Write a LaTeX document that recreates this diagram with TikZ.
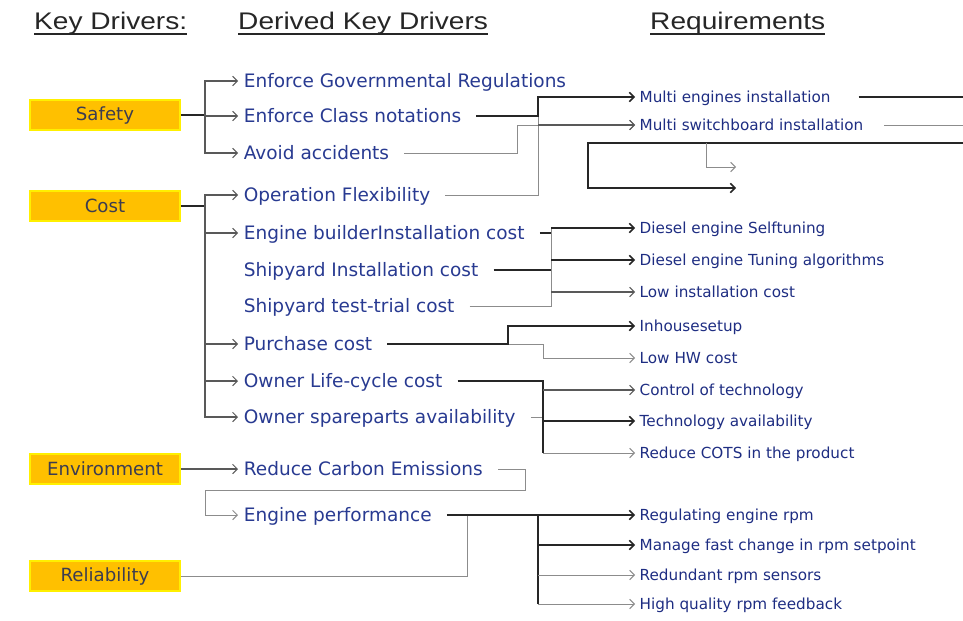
\documentclass[tikz,border=0pt]{standalone}
\usepackage{fontspec}
\setmainfont{DejaVu Sans}
\newfontfamily\headfont{Liberation Sans}
\usetikzlibrary{arrows.meta,shadows}
\definecolor{kdorange}{RGB}{255,192,0}
\definecolor{kdyellow}{RGB}{255,240,0}
\definecolor{kdtext}{RGB}{60,60,80}
\definecolor{dkblue}{RGB}{40,58,145}
\definecolor{rqblue}{RGB}{30,45,130}

\begin{document}
\begin{tikzpicture}[x=0.03cm,y=-0.03cm,
	>={Straight Barb[length=4pt,width=8pt]},
	head/.style={anchor=base west,inner sep=0pt,text=black!85,font=\headfont\fontsize{20.5pt}{24pt}\selectfont},
	kd/.style={draw=kdyellow,line width=1.4pt,fill=kdorange,minimum width=4.5cm,minimum height=0.91cm,text=kdtext,font=\fontsize{15.5pt}{18pt}\selectfont,drop shadow={shadow xshift=0.7pt,shadow yshift=-0.9pt,fill=black!35}},
	dkd/.style={anchor=west,inner xsep=0pt,outer xsep=5pt,inner ysep=0pt,text height=14.5pt,text depth=3pt,text=dkblue,font=\fontsize{15.8pt}{18pt}\selectfont},
	req/.style={anchor=west,inner xsep=0pt,outer xsep=4pt,inner ysep=0pt,text height=12pt,text depth=2.5pt,text=rqblue,font=\fontsize{13pt}{15pt}\selectfont},
	heavy/.style={draw=black!85,line width=1.3pt},
	mid/.style={draw=black!65,line width=0.9pt},
	soft/.style={draw=black!45,line width=0.8pt},
	from/.style={shorten <=8pt}]
	\useasboundingbox (0,0) rectangle (963,620);
	
	\node[head] (h1) at (34,30) {\scalebox{1.17}[1]{Key Drivers:}};
	\node[head] (h2) at (238,30) {\scalebox{1.17}[1]{Derived Key Drivers}};
	\node[head] (h3) at (650,30) {\scalebox{1.17}[1]{Requirements}};
	\foreach \h in {h1,h2,h3}
		\draw[line width=1.2pt,black!85] ([yshift=-3.4pt]\h.base west) -- ([yshift=-3.4pt]\h.base east);
	
	\begin{scope}
	\node[kd] (sf) at (105,115) {Safety};
	\node[kd] (cs) at (105,206) {Cost};
	\node[kd] (ev) at (105,469) {Environment};
	\node[kd] (rl) at (105,576) {Reliability};
	\end{scope}
	
	\begin{scope}
	\node[dkd] (egr) at (238,81) {Enforce Governmental Regulations};
	\node[dkd] (ecn) at (238,116) {Enforce Class notations};
	\node[dkd] (avd) at (238,153) {Avoid accidents};
	\node[dkd] (opf) at (238,195) {Operation Flexibility};
	\node[dkd] (ebc) at (238,233) {Engine builderInstallation cost};
	\node[dkd] (sic) at (238,270) {Shipyard Installation cost};
	\node[dkd] (stc) at (238,306) {Shipyard test-trial cost};
	\node[dkd] (pur) at (238,344) {Purchase cost};
	\node[dkd] (olc) at (238,381) {Owner Life-cycle cost};
	\node[dkd] (osa) at (238,417) {Owner spareparts availability};
	\node[dkd] (rce) at (238,469) {Reduce Carbon Emissions};
	\node[dkd] (enp) at (238,515) {Engine performance};
	\end{scope}
	
	\begin{scope}
	\node[req] (mei) at (635,97) {Multi engines installation};
	\node[req] (msi) at (635,125) {Multi switchboard installation};
	\node[req] (dst) at (635,228) {Diesel engine Selftuning};
	\node[req] (dta) at (635,260) {Diesel engine Tuning algorithms};
	\node[req] (lic) at (635,292) {Low installation cost};
	\node[req] (ihs) at (635,326) {Inhousesetup};
	\node[req] (lhw) at (635,358) {Low HW cost};
	\node[req] (cot) at (635,390) {Control of technology};
	\node[req] (tav) at (635,421) {Technology availability};
	\node[req] (rct) at (635,453) {Reduce COTS in the product};
	\node[req] (rer) at (635,515) {Regulating engine rpm};
	\node[req] (mfc) at (635,545) {Manage fast change in rpm setpoint};
	\node[req] (rrs) at (635,575) {Redundant rpm sensors};
	\node[req] (hqf) at (635,604) {High quality rpm feedback};
	\end{scope}
	
	\coordinate (kx) at (205,0);
	\coordinate (rx) at (467,0);
	\coordinate (px) at (508,0);
	\coordinate (ax) at (517,0);
	\coordinate (gx) at (525,0);
	\coordinate (fx) at (538,0);
	\coordinate (qx) at (543,0);
	\coordinate (cx) at (551,0);
	\coordinate (ej) at (205,490);
	\coordinate (lpr) at (963,143);
	\coordinate (lpl) at (588,143);
	\coordinate (lpm) at (706,143);
	\coordinate (lea) at (736,167);
	\coordinate (leb) at (736,188);
	
	\draw[heavy] (sf.east) -- (sf.east -| kx);
	\foreach \n in {egr,ecn,avd}
		\draw[mid,->] (sf.east -| kx) |- (\n.west);
	\draw[heavy] (cs.east) -- (cs.east -| kx);
	\foreach \n in {opf,ebc,pur,olc,osa}
		\draw[mid,->] (cs.east -| kx) |- (\n.west);
	\draw[mid,->] (ev.east) -- (ev.east -| rce.west);
	\draw[soft,from,->] (rce.east) -| (gx |- ej) -- (ej) |- (enp.west);
	
	\draw[soft,from] (opf.east) -| (fx |- mei);
	\draw[soft,from,->] (avd.east) -| (ax |- msi) -- (msi.west);
	\draw[mid,->] (fx |- msi) -- (msi.west);
	\draw[heavy,from,->] (ecn.east) -- (ecn.east -| fx) |- (mei.west);
	\draw[heavy,shorten <=20pt] (mei.east) -- (mei.east -| lpr);
	\draw[soft,shorten <=14pt] (msi.east) -- (msi.east -| lpr);
	\draw[heavy,->] (lpr) -- (lpl) |- (leb);
	\draw[soft,->] (lpm) |- (lea);
	
	\draw[soft,from] (stc.east) -| (cx |- dst);
	\draw[heavy,from] (ebc.east) -- (ebc.east -| cx);
	\draw[heavy,from] (sic.east) -- (sic.east -| cx);
	\foreach \n/\s in {dst/heavy,dta/heavy,lic/mid}
		\draw[\s,->] (cx |- \n) -- (\n.west);
	
	\draw[soft,->] (pur.east -| px) -| (qx |- lhw) -- (lhw.west);
	\draw[heavy,from,->] (pur.east) -| (px |- ihs) -- (ihs.west);
	
	\draw[soft,from] (osa.east) -- (osa.east -| qx);
	\draw[heavy,from] (olc.east) -| (qx |- rct);
	\foreach \n/\s in {cot/mid,tav/heavy,rct/soft}
		\draw[\s,->] (qx |- \n) -- (\n.west);
	
	\draw[soft] (rl.east) -| (rx |- enp);
	\draw[heavy,from] (enp.east) -| (fx |- hqf);
	\foreach \n/\s in {rer/heavy,mfc/heavy,rrs/soft,hqf/soft}
		\draw[\s,->] (fx |- \n) -- (\n.west);
\end{tikzpicture}
\end{document}
